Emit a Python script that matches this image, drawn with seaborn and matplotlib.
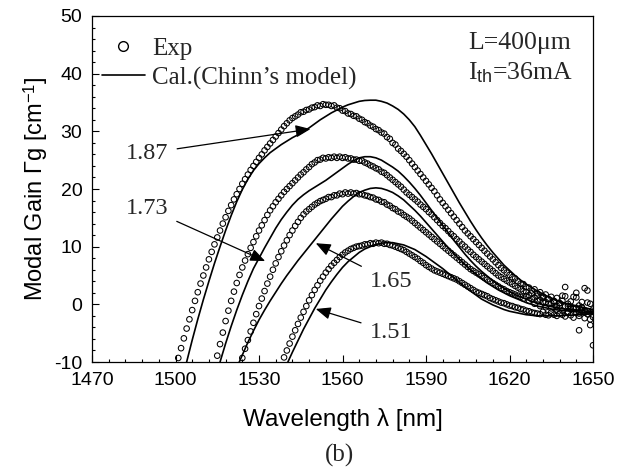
import numpy as np
import pandas as pd
import matplotlib
matplotlib.use("Agg")
import matplotlib.pyplot as plt
from matplotlib.lines import Line2D
from matplotlib.ticker import MultipleLocator
import seaborn as sns

# ---------------------------------------------------------------
# Modal gain spectra, L = 400 um, I_th = 36 mA
# Measured spectra: 1 nm sampling, first wavelength given by *_start
# ---------------------------------------------------------------
levels = ["1.87", "1.73", "1.65", "1.51"]

exp_start = {"1.87": 1501, "1.73": 1515, "1.65": 1524, "1.51": 1539}

exp_187 = [
    -9.3, -7.6, -5.9, -4.2, -2.6, -1.0, 0.6, 2.1, 3.6, 5.0,
    6.4, 7.8, 9.1, 10.4, 11.6, 12.8, 14.0, 15.1, 16.2, 17.2,
    18.2, 19.1, 20.0, 20.9, 21.7, 22.5, 23.3, 24.0, 24.7, 25.4,
    26.0, 26.7, 27.3, 27.9, 28.5, 29.1, 29.7, 30.3, 30.9, 31.4,
    31.9, 32.3, 32.6, 32.9, 33.3, 33.4, 33.7, 33.8, 34.1, 34.2,
    34.5, 34.4, 34.7, 34.6, 34.6, 34.4, 34.5, 34.1, 34.0, 33.6,
    33.5, 33.1, 33.0, 32.7, 32.6, 32.2, 32.0, 31.6, 31.4, 31.0,
    30.8, 30.4, 30.2, 29.8, 29.6, 29.0, 28.7, 28.0, 27.7, 27.0,
    26.6, 26.1, 25.6, 25.0, 24.4, 23.8, 23.2, 22.6, 22.0, 21.4,
    20.8, 20.2, 19.6, 18.9, 18.2, 17.6, 17.0, 16.4, 15.8, 15.2,
    14.6, 14.0, 13.4, 12.8, 12.3, 11.8, 11.3, 10.8, 10.3, 9.8,
    9.3, 8.8, 8.3, 7.8, 7.3, 6.8, 6.3, 5.9, 5.5, 5.1,
    4.7, 4.5, 4.0, 3.6, 3.5, 3.0, 2.9, 2.4, 2.6, 1.9,
    2.1, 1.4, 1.7, 0.9, 1.3, 0.5, 1.1, 0.2, 0.6, 3.0,
    -0.3, 0.5, -0.6, 2.0, -0.2, 0.4, 2.8, -1.2, 0.1, -2.2,
]

exp_173 = [
    -8.9, -6.9, -4.9, -2.9, -1.1, 0.6, 2.2, 3.7, 5.1, 6.4,
    7.6, 8.7, 9.8, 10.8, 11.8, 12.8, 13.7, 14.6, 15.5, 16.3,
    17.0, 17.7, 18.3, 18.9, 19.5, 20.0, 20.5, 21.0, 21.5, 22.0,
    22.5, 22.9, 23.4, 23.8, 24.3, 24.6, 25.0, 25.1, 25.4, 25.3,
    25.5, 25.4, 25.6, 25.4, 25.6, 25.4, 25.5, 25.3, 25.3, 25.1,
    25.1, 24.9, 24.9, 24.6, 24.4, 24.1, 23.9, 23.6, 23.4, 23.0,
    22.8, 22.4, 22.0, 21.6, 21.2, 20.8, 20.4, 19.9, 19.4, 19.0,
    18.6, 18.2, 17.8, 17.3, 16.9, 16.5, 16.0, 15.6, 15.1, 14.6,
    14.1, 13.6, 13.2, 12.7, 12.2, 11.8, 11.3, 10.9, 10.4, 10.0,
    9.5, 9.1, 8.6, 8.2, 7.8, 7.4, 7.0, 6.6, 6.2, 5.8,
    5.4, 5.0, 4.7, 4.4, 4.1, 3.8, 3.5, 3.2, 2.9, 2.6,
    2.3, 2.1, 1.6, 1.9, 1.2, 1.5, 0.8, 1.1, 0.4, 0.9,
    0.2, 0.6, -0.3, 0.2, 1.5, -0.4, 0.1, -0.8, 1.3, -0.6,
    -4.5, -0.5, -1.0, 0.3, -1.4, -0.9,
]

exp_165 = [
    -9.3, -7.7, -6.2, -4.7, -3.2, -1.7, -0.3, 1.0, 2.3, 3.6,
    4.8, 6.0, 7.1, 8.2, 9.2, 10.2, 11.1, 12.0, 12.8, 13.6,
    14.3, 15.0, 15.6, 16.1, 16.5, 16.9, 17.3, 17.6, 17.9, 18.1,
    18.3, 18.6, 18.6, 18.9, 18.9, 19.2, 19.1, 19.4, 19.2, 19.4,
    19.2, 19.3, 19.1, 19.1, 18.9, 18.8, 18.6, 18.5, 18.2, 18.1,
    17.8, 17.7, 17.3, 17.1, 16.7, 16.5, 16.1, 15.9, 15.5, 15.2,
    14.9, 14.5, 14.1, 13.7, 13.3, 12.9, 12.5, 12.1, 11.7, 11.3,
    10.9, 10.5, 10.1, 9.7, 9.3, 8.9, 8.5, 8.1, 7.7, 7.3,
    6.9, 6.5, 6.1, 5.8, 5.5, 5.2, 4.9, 4.6, 4.3, 4.0,
    3.7, 3.4, 3.1, 2.8, 2.6, 2.3, 2.1, 1.9, 1.7, 1.5,
    1.3, 1.0, 1.4, 0.6, 0.9, 0.1, 0.6, -0.3, 0.4, -0.5,
    0.1, -0.7, 0.3, -0.9, -0.2, -1.1, 1.4, -1.3, -0.4, -0.8,
    1.2, -1.6, -0.6, -1.2, 2.4, -3.6, -1.3,
]

exp_151 = [
    -9.2, -8.0, -6.8, -5.6, -4.5, -3.4, -2.3, -1.3, -0.3, 0.7,
    1.6, 2.5, 3.3, 4.1, 4.8, 5.5, 6.1, 6.7, 7.2, 7.7,
    8.2, 8.6, 9.0, 9.3, 9.6, 9.8, 10.0, 10.1, 10.2, 10.4,
    10.4, 10.6, 10.5, 10.7, 10.6, 10.7, 10.5, 10.5, 10.3, 10.2,
    10.0, 9.8, 9.6, 9.4, 9.1, 8.8, 8.5, 8.2, 7.9, 7.5,
    7.2, 6.8, 6.5, 6.2, 5.9, 5.7, 5.5, 5.3, 5.1, 4.9,
    4.7, 4.5, 4.3, 4.0, 3.7, 3.4, 3.1, 2.8, 2.5, 2.2,
    2.0, 1.8, 1.6, 1.4, 1.1, 0.9, 0.7, 0.5, 0.3, 0.2,
    0.0, -0.2, -0.3, -0.5, -0.6, -0.8, -0.9, -1.1, -1.2, -1.4,
    -1.5, -1.6, -1.7, -1.3, -1.8, -1.9, -1.4, -1.8, -2.0, -1.6,
    -1.8, -2.1, -1.5, -1.9, -2.3, -1.4, -2.0, -1.1, -2.4, -1.7,
    -2.6, -7.1,
]

# Calculated spectra (Chinn's model): 2 nm sampling
cal_start = {"1.87": 1504, "1.73": 1516, "1.65": 1522, "1.51": 1540}

cal_187 = [
    -10.0, -6.2, -2.6, 0.8, 4.0, 7.1, 10.0, 12.8, 15.4, 17.8,
    19.9, 21.7, 23.2, 24.4, 25.4, 26.3, 27.0, 27.7, 28.3, 28.9,
    29.4, 30.0, 30.6, 31.3, 32.0, 32.6, 33.2, 33.7, 34.2, 34.6,
    34.9, 35.2, 35.35, 35.4, 35.4, 35.2, 34.9, 34.4, 33.8, 33.0,
    32.0, 30.8, 29.3, 27.7, 26.1, 24.4, 22.7, 21.0, 19.3, 17.6,
    16.0, 14.4, 12.9, 11.5, 10.2, 9.0, 7.9, 6.8, 5.9, 5.0,
    4.2, 3.5, 2.9, 2.3, 1.8, 1.3, 0.9, 0.5, 0.2, -0.1,
    -0.3, -0.5, -0.7, -0.9,
]

cal_173 = [
    -10.0, -6.8, -3.8, -1.0, 1.6, 4.0, 6.2, 8.0, 9.8, 11.5,
    13.2, 14.7, 16.0, 17.2, 18.2, 19.0, 19.7, 20.3, 20.9, 21.5,
    22.2, 22.9, 23.6, 24.3, 24.9, 25.4, 25.6, 25.6, 25.4, 25.0,
    24.4, 23.8, 23.1, 22.2, 21.2, 20.1, 18.9, 17.6, 16.3, 15.0,
    13.7, 12.4, 11.1, 9.9, 8.7, 7.6, 6.6, 5.7, 4.9, 4.1,
    3.4, 2.8, 2.2, 1.7, 1.3, 0.9, 0.5, 0.2, -0.1, -0.3,
    -0.5, -0.7, -0.8, -0.9, -1.0, -1.1, -1.2, -1.2,
]

cal_165 = [
    -11.0, -8.8, -6.6, -4.6, -2.7, -1.0, 0.6, 2.1, 3.6, 5.0, 6.3,
    7.6, 8.8, 10.0, 11.2, 12.4, 13.6, 14.8, 15.9, 17.0, 17.9,
    18.7, 19.4, 19.8, 20.1, 20.2, 20.1, 19.8, 19.4, 18.8, 18.1,
    17.2, 16.3, 15.3, 14.2, 13.1, 12.0, 10.9, 9.8, 8.8, 7.8,
    6.9, 6.0, 5.2, 4.4, 3.7, 3.1, 2.5, 2.0, 1.5, 1.1,
    0.7, 0.3, 0.0, -0.3, -0.5, -0.7, -0.9, -1.0, -1.1, -1.2,
    -1.3, -1.4, -1.4, -1.5,
]

cal_151 = [
    -10.4, -8.3, -6.3, -4.3, -2.5, -0.7, 0.9, 2.5, 3.9, 5.2,
    6.4, 7.4, 8.2, 9.0, 9.6, 10.0, 10.4, 10.6, 10.7, 10.7,
    10.5, 10.3, 9.9, 9.5, 8.9, 8.3, 7.6, 6.9, 6.2, 5.4,
    4.6, 3.8, 3.0, 2.3, 1.6, 0.9, 0.4, -0.1, -0.5, -0.9,
    -1.2, -1.4, -1.6, -1.8, -1.9, -2.0, -2.0, -2.0, -2.0, -2.0,
    -1.9, -1.9, -1.8, -1.8, -1.7, -1.6,
]

exp_gain = {"1.87": exp_187, "1.73": exp_173, "1.65": exp_165, "1.51": exp_151}
cal_gain = {"1.87": cal_187, "1.73": cal_173, "1.65": cal_165, "1.51": cal_151}

# label text position and arrow tip (wavelength, gain) for each curve
label_pos = {"1.87": (1489.8, 26.2), "1.73": (1489.8, 16.7),
             "1.65": (1577.4, 4.0), "1.51": (1577.4, -4.8)}
arrow_tip = {"1.87": (1548.5, 30.4), "1.73": (1532.2, 7.5),
             "1.65": (1550.4, 10.6), "1.51": (1550.4, -0.8)}


def frame(gains, start, step, level):
    wl = start + step * np.arange(len(gains))
    return pd.DataFrame({"wavelength": wl, "gain": gains, "level": level})


exp_df = pd.concat([frame(exp_gain[k], exp_start[k], 1, k) for k in levels])
cal_df = pd.concat([frame(cal_gain[k], cal_start[k], 2, k) for k in levels])

# ---------------------------------------------------------------
sns.set_theme(style="ticks")
plt.rcParams["font.family"] = ["Liberation Sans", "DejaVu Sans"]
plt.rcParams["mathtext.fontset"] = "custom"
plt.rcParams["mathtext.rm"] = "Liberation Serif"
plt.rcParams["mathtext.it"] = "Liberation Serif:italic"
plt.rcParams["mathtext.sf"] = "Liberation Sans"
plt.rcParams["axes.edgecolor"] = "black"
plt.rcParams["axes.linewidth"] = 0.9
plt.rcParams["axes.unicode_minus"] = False

SERIF = ["Liberation Serif", "DejaVu Serif"]

fig = plt.figure(figsize=(6.32, 4.69), dpi=100)
ax = fig.add_axes([92 / 632, 1 - 362 / 469, 501 / 632, 346 / 469])

sns.lineplot(data=cal_df, x="wavelength", y="gain", units="level",
             estimator=None, color="black", linewidth=1.2, ax=ax,
             legend=False, zorder=2)
sns.scatterplot(data=exp_df, x="wavelength", y="gain", marker="o", s=16,
                facecolor="none", edgecolor="black", linewidth=0.75,
                ax=ax, legend=False, zorder=3)

ax.set_xlim(1470, 1650)
ax.set_ylim(-10, 50)
ax.xaxis.set_major_locator(MultipleLocator(30))
ax.xaxis.set_minor_locator(MultipleLocator(6))
ax.yaxis.set_major_locator(MultipleLocator(10))
ax.yaxis.set_minor_locator(MultipleLocator(2))
ax.tick_params(which="both", direction="in", top=False, right=False,
               color="black", width=0.8, labelsize=14, labelcolor="black")
ax.tick_params(which="major", length=5)
ax.tick_params(which="minor", length=2.5)
ax.tick_params(axis="x", pad=7)
ax.tick_params(axis="y", pad=7)

ax.set_xlabel("Wavelength λ [nm]", fontsize=17.5, labelpad=14, color="black")
ax.set_ylabel(r"Modal Gain Γg [cm$^{\mathsf{-1}}$]", fontsize=17,
              labelpad=3, color="black")

handles = [
    Line2D([], [], marker="o", linestyle="none", markerfacecolor="none",
           markeredgecolor="black", markersize=7, markeredgewidth=1.0),
    Line2D([], [], color="black", linewidth=1.2),
]
ax.legend(handles, ["Exp", "Cal.(Chinn\u2019s model)"], loc="upper left",
          bbox_to_anchor=(0.02, 0.938), frameon=False,
          prop={"family": SERIF, "size": 18}, handlelength=1.7,
          handletextpad=0.3, labelspacing=0.26, borderpad=0,
          borderaxespad=0)

ax.text(0.7505, 0.922, "L=400\u03bcm", transform=ax.transAxes,
        ha="left", va="center", fontsize=18.5, family=SERIF)
ax.text(0.7505, 0.837, r"I$_{\mathsf{th}}$=36mA", transform=ax.transAxes,
        ha="left", va="center", fontsize=18.5, family=SERIF)

for k in levels:
    ax.annotate(k, xy=arrow_tip[k], xytext=label_pos[k],
                ha="center", va="center", fontsize=17.5, family=SERIF,
                arrowprops=dict(arrowstyle="-|>,head_length=0.6,head_width=0.25",
                                mutation_scale=15, color="black", lw=0.9,
                                shrinkA=4, shrinkB=0))

fig.text(339 / 632, 1 - 455 / 469, "(b)", ha="center", va="center",
         fontsize=18, family=SERIF)

fig.savefig("out.png", dpi=100)
